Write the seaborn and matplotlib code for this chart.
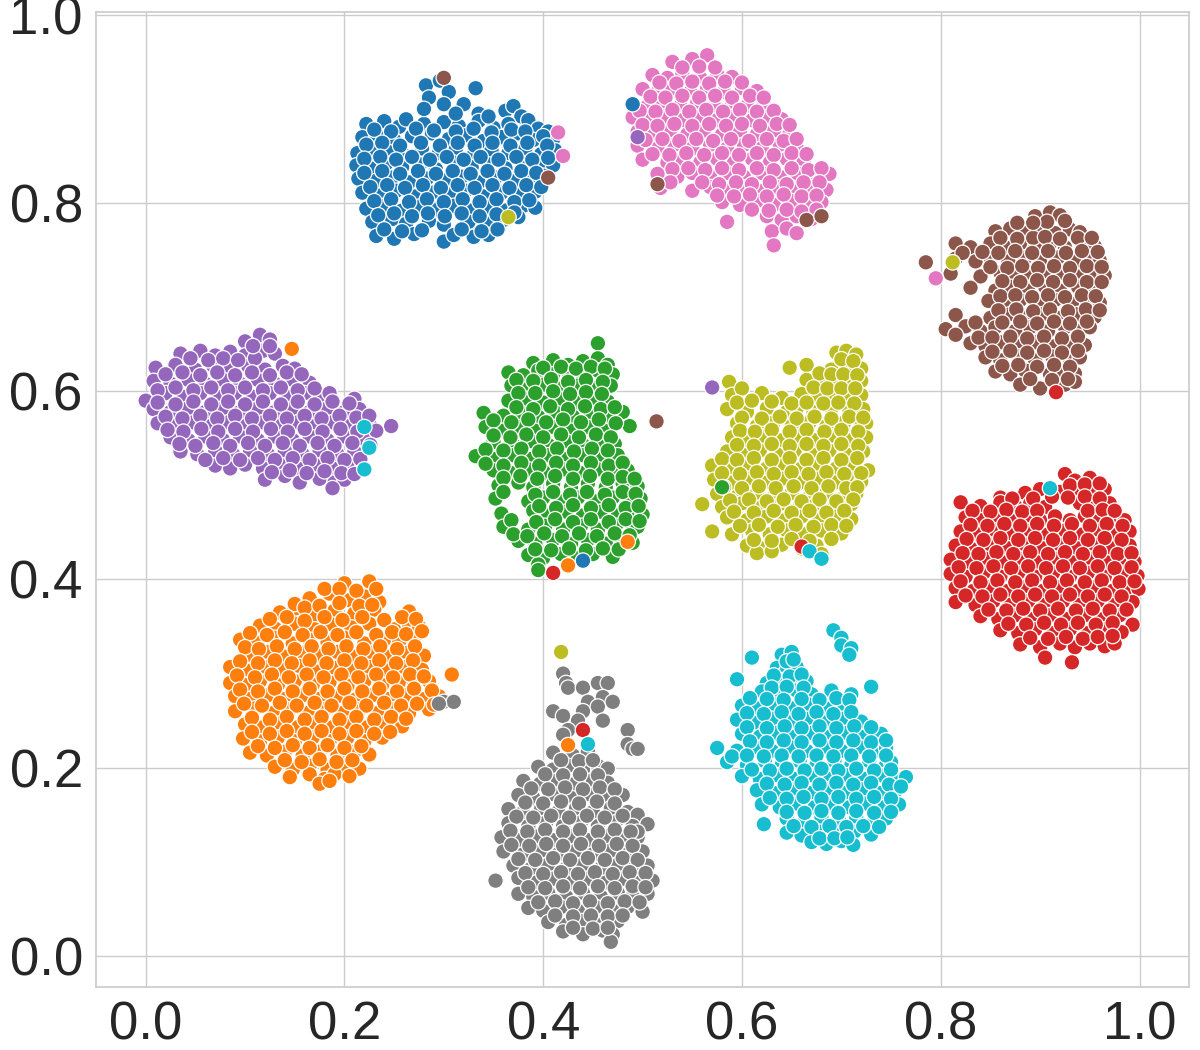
import matplotlib
matplotlib.use("Agg")
import matplotlib.pyplot as plt
import pandas as pd
import seaborn as sns

# points, one list per cluster
blue = [(.282,.925),(.296,.93),(.332,.922),(.285,.912),(.305,.918),(.32,.905),(.335,.895),(.362,.898),(.37,.903),(.378,.892),
(.222,.884),(.24,.887),(.255,.881),(.262,.889),(.28,.884),(.3,.886),(.315,.882),(.335,.887),(.35,.88),(.365,.884),(.385,.888),(.395,.879),(.405,.876),
(.218,.87),(.232,.873),(.25,.867),(.268,.871),(.288,.874),(.305,.868),(.322,.872),(.34,.866),(.358,.87),(.375,.874),(.39,.867),(.41,.868),
(.213,.853),(.228,.857),(.245,.854),(.26,.851),(.278,.858),(.295,.853),(.312,.857),(.33,.851),(.348,.856),(.365,.853),(.382,.858),(.398,.852),(.412,.856),
(.212,.84),(.226,.837),(.242,.842),(.258,.838),(.276,.841),(.292,.836),(.31,.843),(.328,.838),(.345,.841),(.362,.837),(.38,.842),(.396,.838),(.41,.84),
(.214,.826),(.23,.823),(.248,.827),(.265,.822),(.283,.826),(.3,.824),(.318,.828),(.335,.822),(.352,.827),(.37,.823),(.386,.826),(.4,.829),
(.218,.811),(.235,.808),(.252,.813),(.27,.807),(.288,.811),(.305,.809),(.322,.813),(.34,.807),(.358,.811),(.375,.808),(.392,.812),
(.222,.794),(.24,.797),(.258,.792),(.275,.796),(.292,.793),(.31,.797),(.328,.792),(.345,.796),(.362,.792),(.38,.797),(.392,.795),
(.228,.78),(.248,.783),(.262,.778),(.285,.781),(.3,.777),(.325,.78),(.345,.778),(.36,.782),(.375,.785),
(.232,.765),(.25,.762),(.27,.767),(.3,.759),(.31,.766),(.33,.764),(.345,.766),
(.23,.878),(.247,.876),(.272,.879),(.29,.877),(.312,.876),(.33,.879),(.348,.875),(.368,.878),(.382,.876),(.4,.871),
(.222,.862),(.238,.864),(.256,.861),(.277,.864),(.296,.861),(.314,.864),(.331,.861),(.349,.864),(.367,.861),(.384,.864),(.404,.861),
(.22,.847),(.236,.849),(.252,.846),(.268,.849),(.286,.846),(.303,.849),(.32,.846),(.337,.849),(.355,.846),(.373,.849),(.389,.846),(.405,.848),
(.22,.832),(.238,.834),(.256,.831),(.274,.834),(.292,.831),(.309,.834),(.327,.831),(.344,.834),(.361,.831),(.378,.834),(.393,.832),
(.226,.817),(.243,.819),(.261,.816),(.279,.819),(.297,.816),(.314,.819),(.331,.816),(.349,.819),(.366,.816),(.383,.819),(.398,.817),
(.23,.802),(.247,.804),(.265,.801),(.283,.804),(.3,.801),(.319,.804),(.336,.801),(.353,.804),(.371,.801),(.386,.803),
(.234,.787),(.25,.789),(.268,.786),(.284,.789),(.301,.786),(.318,.789),(.336,.786),(.353,.788),(.371,.79),
(.24,.772),(.258,.77),(.278,.771),(.318,.772),(.338,.77),(.354,.772),(.28,.9),(.3,.905),(.312,.895),(.345,.892)]

orange = [(.2,.396),(.225,.398),(.165,.38),(.185,.385),(.205,.378),(.22,.382),(.235,.376),
(.135,.365),(.15,.369),(.17,.362),(.19,.367),(.21,.364),(.23,.368),(.265,.366),
(.115,.351),(.13,.348),(.15,.353),(.17,.347),(.188,.352),(.207,.349),(.225,.353),(.25,.347),(.265,.352),(.275,.35),
(.095,.336),(.112,.333),(.13,.338),(.148,.332),(.165,.336),(.183,.333),(.2,.338),(.22,.332),(.24,.336),(.255,.333),(.27,.337),
(.105,.32),(.122,.323),(.14,.318),(.158,.322),(.175,.319),(.193,.323),(.21,.318),(.228,.322),(.245,.318),(.262,.322),(.28,.319),
(.085,.307),(.105,.303),(.12,.307),(.138,.304),(.155,.308),(.173,.302),(.19,.306),(.208,.303),(.225,.307),(.243,.303),(.26,.307),(.278,.304),
(.085,.29),(.1,.288),(.115,.292),(.133,.288),(.15,.292),(.168,.288),(.185,.291),(.203,.287),(.22,.292),(.238,.288),(.255,.291),(.27,.288),(.285,.292),
(.09,.276),(.105,.273),(.123,.277),(.14,.273),(.158,.277),(.175,.273),(.193,.276),(.21,.272),(.228,.277),(.245,.273),(.263,.277),(.28,.273),(.295,.276),
(.09,.26),(.11,.263),(.128,.258),(.145,.262),(.163,.258),(.18,.262),(.198,.258),(.215,.262),(.233,.258),(.25,.262),(.265,.258),(.285,.262),
(.1,.246),(.118,.243),(.135,.247),(.153,.243),(.17,.247),(.188,.243),(.205,.247),(.223,.243),(.24,.247),(.258,.244),
(.098,.231),(.115,.228),(.133,.232),(.15,.228),(.168,.232),(.185,.228),(.203,.232),(.22,.228),(.238,.232),
(.105,.216),(.122,.213),(.14,.217),(.158,.213),(.175,.217),(.193,.213),(.21,.217),(.225,.214),
(.13,.201),(.148,.198),(.165,.202),(.183,.198),(.2,.202),(.215,.199),(.145,.19),(.165,.193),(.18,.188),(.19,.193),(.205,.191),(.175,.183),(.185,.186),(.308,.299),
(.18,.39),(.195,.39),(.212,.388),(.232,.39),(.15,.374),(.16,.37),(.175,.372),(.195,.375),(.215,.372),(.228,.373),
(.125,.358),(.142,.36),(.16,.356),(.18,.36),(.198,.357),(.218,.36),(.24,.357),(.258,.36),(.272,.358),
(.105,.343),(.122,.341),(.14,.344),(.158,.341),(.176,.344),(.193,.341),(.212,.344),(.232,.341),(.248,.344),(.262,.342),(.278,.345),
(.1,.328),(.114,.326),(.132,.329),(.15,.326),(.167,.329),(.184,.326),(.202,.329),(.219,.326),(.236,.329),(.253,.326),(.271,.329),
(.095,.313),(.113,.311),(.13,.314),(.147,.311),(.165,.314),(.182,.311),(.2,.314),(.217,.311),(.235,.314),(.252,.311),(.269,.314),
(.092,.298),(.11,.296),(.127,.299),(.144,.296),(.162,.299),(.179,.296),(.197,.299),(.214,.296),(.232,.299),(.249,.296),(.266,.299),(.28,.297),
(.095,.283),(.113,.281),(.13,.284),(.148,.281),(.165,.284),(.183,.281),(.2,.284),(.218,.281),(.235,.284),(.253,.281),(.27,.284),(.288,.282),
(.099,.268),(.117,.266),(.135,.269),(.152,.266),(.17,.269),(.187,.266),(.205,.269),(.222,.266),(.24,.269),(.257,.266),(.273,.268),(.29,.267),
(.107,.253),(.125,.251),(.142,.254),(.16,.251),(.177,.254),(.195,.251),(.212,.254),(.23,.251),(.247,.254),(.262,.252),
(.107,.238),(.125,.236),(.142,.239),(.16,.236),(.177,.239),(.195,.236),(.212,.239),(.23,.236),(.246,.238),
(.113,.223),(.13,.221),(.148,.224),(.165,.221),(.183,.224),(.2,.221),(.217,.223),(.14,.208),(.157,.206),(.175,.209),(.192,.206),(.208,.208)]

green = [(.39,.63),(.41,.633),(.425,.628),(.44,.632),(.455,.651),(.455,.635),(.465,.628),
(.365,.62),(.38,.617),(.395,.622),(.41,.618),(.425,.621),(.44,.617),(.455,.622),(.47,.618),
(.368,.606),(.385,.603),(.4,.607),(.418,.603),(.435,.606),(.452,.603),(.468,.606),
(.365,.59),(.382,.592),(.4,.588),(.417,.592),(.435,.588),(.45,.592),(.465,.589),
(.34,.577),(.36,.574),(.378,.577),(.395,.573),(.413,.577),(.43,.573),(.448,.577),(.465,.574),(.48,.578),
(.342,.562),(.36,.558),(.375,.562),(.392,.558),(.41,.562),(.428,.558),(.445,.562),(.462,.558),(.487,.563),
(.35,.546),(.37,.543),(.388,.547),(.405,.543),(.423,.547),(.44,.543),(.458,.547),(.472,.544),
(.332,.531),(.352,.528),(.37,.532),(.388,.528),(.405,.532),(.423,.528),(.44,.532),(.458,.528),(.475,.532),
(.35,.516),(.368,.513),(.385,.517),(.403,.513),(.42,.517),(.438,.513),(.455,.517),(.473,.513),(.485,.516),
(.355,.5),(.375,.503),(.39,.498),(.41,.502),(.428,.498),(.445,.502),(.463,.498),(.48,.502),(.495,.499),
(.352,.486),(.385,.483),(.4,.487),(.418,.483),(.435,.487),(.453,.483),(.47,.487),(.488,.483),(.498,.486),
(.358,.47),(.39,.473),(.405,.468),(.423,.472),(.44,.468),(.458,.472),(.475,.468),(.492,.472),(.5,.469),
(.36,.456),(.385,.453),(.402,.457),(.42,.453),(.438,.457),(.455,.453),(.473,.457),(.49,.453),(.495,.456),
(.375,.441),(.392,.438),(.41,.442),(.428,.438),(.445,.442),(.463,.438),(.48,.442),(.49,.439),
(.385,.426),(.4,.423),(.418,.427),(.435,.423),(.45,.427),(.47,.424),(.395,.416),(.395,.41),
(.4,.625),(.418,.626),(.433,.624),(.448,.626),(.462,.624),(.373,.612),(.39,.611),(.408,.613),(.425,.61),(.443,.612),(.46,.61),
(.375,.598),(.392,.598),(.41,.6),(.427,.597),(.443,.599),(.459,.597),(.373,.583),(.39,.581),(.407,.584),(.425,.581),(.442,.584),(.458,.581),(.472,.583),
(.35,.569),(.368,.567),(.385,.57),(.403,.567),(.42,.57),(.438,.567),(.456,.57),(.473,.566),
(.35,.553),(.367,.551),(.383,.554),(.4,.551),(.418,.554),(.436,.551),(.453,.554),(.468,.551),
(.342,.538),(.36,.537),(.378,.539),(.396,.536),(.414,.539),(.431,.536),(.449,.539),(.465,.537),
(.342,.523),(.36,.521),(.378,.524),(.396,.521),(.413,.524),(.43,.521),(.448,.524),(.466,.521),(.48,.524),
(.36,.508),(.377,.51),(.394,.507),(.412,.51),(.43,.507),(.447,.51),(.465,.507),(.48,.509),(.492,.507),
(.36,.493),(.392,.49),(.41,.493),(.427,.49),(.444,.493),(.462,.49),(.48,.493),(.493,.491),
(.396,.478),(.413,.476),(.43,.479),(.448,.476),(.466,.479),(.483,.476),(.496,.478),
(.368,.463),(.393,.461),(.412,.464),(.43,.461),(.448,.464),(.466,.461),(.483,.464),(.497,.462),
(.37,.448),(.384,.446),(.401,.449),(.419,.446),(.436,.449),(.454,.446),(.472,.449),(.487,.447),
(.392,.432),(.408,.431),(.426,.433),(.443,.431),(.46,.433),(.476,.432)]

red = [(.925,.512),(.935,.505),(.95,.508),(.885,.492),(.9,.496),(.92,.493),(.935,.497),(.95,.492),(.965,.496),(.86,.487),
(.82,.482),(.84,.478),(.86,.482),(.875,.478),(.89,.481),(.905,.477),(.94,.481),(.955,.477),(.97,.481),
(.825,.466),(.84,.463),(.855,.467),(.87,.463),(.885,.467),(.9,.463),(.915,.467),(.93,.463),(.945,.467),(.96,.463),(.975,.467),(.985,.463),
(.82,.451),(.838,.448),(.855,.452),(.873,.448),(.89,.452),(.908,.448),(.925,.452),(.943,.448),(.96,.452),(.978,.448),(.99,.451),
(.815,.436),(.83,.433),(.85,.437),(.868,.433),(.885,.437),(.903,.433),(.92,.437),(.938,.433),(.955,.437),(.973,.433),(.99,.436),
(.81,.421),(.828,.418),(.845,.422),(.863,.418),(.88,.422),(.898,.418),(.915,.422),(.933,.418),(.95,.422),(.968,.418),(.985,.422),(.995,.419),
(.81,.406),(.825,.403),(.843,.407),(.86,.403),(.878,.407),(.895,.403),(.913,.407),(.93,.403),(.948,.407),(.965,.403),(.983,.407),(.998,.404),
(.815,.391),(.833,.388),(.85,.392),(.868,.388),(.885,.392),(.903,.388),(.92,.392),(.938,.388),(.955,.392),(.973,.388),(.99,.392),(.999,.39),
(.815,.376),(.835,.373),(.853,.377),(.87,.373),(.888,.377),(.905,.373),(.923,.377),(.94,.373),(.958,.377),(.975,.373),(.993,.376),
(.84,.361),(.858,.358),(.875,.362),(.893,.358),(.91,.362),(.928,.358),(.945,.362),(.963,.358),(.98,.362),(.993,.352),
(.86,.346),(.878,.343),(.895,.347),(.913,.343),(.93,.347),(.948,.343),(.965,.347),(.982,.344),
(.88,.331),(.9,.328),(.92,.332),(.935,.328),(.95,.332),(.965,.329),(.975,.332),(.905,.317),(.932,.312),
(.93,.5),(.945,.501),(.96,.502),(.893,.486),(.912,.488),(.928,.487),(.945,.488),(.96,.486),(.872,.486),
(.832,.473),(.85,.472),(.866,.474),(.882,.472),(.897,.473),(.948,.473),(.963,.474),(.975,.473),
(.83,.458),(.847,.457),(.864,.459),(.88,.457),(.897,.459),(.914,.457),(.932,.459),(.95,.457),(.967,.459),(.983,.457),
(.826,.443),(.843,.442),(.86,.444),(.878,.442),(.895,.444),(.913,.442),(.93,.444),(.948,.442),(.965,.444),(.982,.442),
(.822,.428),(.838,.427),(.856,.429),(.873,.427),(.89,.429),(.908,.427),(.925,.429),(.943,.427),(.96,.429),(.978,.427),(.992,.428),
(.818,.413),(.836,.412),(.853,.414),(.871,.412),(.888,.414),(.906,.412),(.923,.414),(.94,.412),(.958,.414),(.975,.412),(.992,.413),
(.82,.398),(.84,.397),(.857,.399),(.875,.397),(.892,.399),(.91,.397),(.927,.399),(.945,.397),(.962,.399),(.98,.397),(.995,.398),
(.825,.383),(.842,.382),(.86,.384),(.878,.382),(.895,.384),(.912,.382),(.93,.384),(.948,.382),(.965,.384),(.982,.382),
(.848,.368),(.866,.367),(.883,.369),(.9,.367),(.918,.369),(.936,.367),(.953,.369),(.97,.367),(.987,.368),
(.868,.353),(.886,.352),(.904,.354),(.921,.352),(.938,.354),(.956,.352),(.973,.354),
(.89,.338),(.908,.337),(.926,.339),(.943,.337),(.958,.339),(.973,.34)]

purple = [(.1,.653),(.115,.66),(.125,.655),(.035,.64),(.055,.643),(.07,.638),(.085,.642),(.1,.638),(.118,.643),(.13,.64),
(.01,.625),(.03,.628),(.05,.623),(.068,.627),(.085,.623),(.103,.627),(.12,.623),(.138,.627),(.15,.624),
(.008,.611),(.025,.608),(.043,.612),(.06,.608),(.078,.612),(.095,.608),(.113,.612),(.13,.608),(.148,.612),(.165,.609),
(.0,.59),(.02,.598),(.038,.594),(.055,.598),(.073,.594),(.09,.598),(.108,.594),(.125,.598),(.143,.594),(.16,.598),(.178,.594),(.21,.592),
(.008,.581),(.025,.578),(.043,.582),(.06,.578),(.078,.582),(.095,.578),(.113,.582),(.13,.578),(.148,.582),(.165,.578),(.183,.582),(.2,.578),(.215,.581),
(.012,.566),(.03,.563),(.048,.567),(.065,.563),(.083,.567),(.1,.563),(.118,.567),(.135,.563),(.153,.567),(.17,.563),(.188,.567),(.205,.563),(.225,.566),(.247,.563),
(.025,.551),(.043,.548),(.06,.552),(.078,.548),(.095,.552),(.113,.548),(.13,.552),(.148,.548),(.165,.552),(.183,.548),(.2,.552),(.22,.549),
(.035,.536),(.052,.533),(.07,.537),(.088,.533),(.105,.537),(.123,.533),(.14,.537),(.158,.533),(.175,.537),(.193,.533),(.21,.536),
(.07,.521),(.085,.518),(.1,.522),(.118,.518),(.135,.522),(.153,.518),(.17,.522),(.188,.518),(.205,.522),(.218,.519),
(.12,.506),(.14,.51),(.155,.503),(.175,.507),(.19,.503),(.2,.506),(.188,.497),
(.045,.635),(.063,.633),(.078,.635),(.093,.633),(.11,.635),(.125,.648),(.108,.648),(.02,.618),(.037,.62),(.055,.617),(.072,.62),(.09,.617),(.107,.62),(.125,.617),(.142,.62),(.157,.618),
(.012,.601),(.03,.604),(.048,.601),(.066,.604),(.083,.601),(.1,.604),(.118,.601),(.136,.604),(.153,.601),(.17,.603),(.185,.598),
(.012,.588),(.03,.586),(.048,.589),(.066,.586),(.083,.589),(.1,.586),(.118,.589),(.136,.586),(.153,.589),(.17,.586),(.188,.589),(.205,.587),
(.02,.573),(.037,.571),(.055,.574),(.072,.571),(.09,.574),(.107,.571),(.125,.574),(.142,.571),(.16,.574),(.177,.571),(.195,.574),(.212,.572),(.225,.574),
(.022,.559),(.038,.557),(.056,.56),(.073,.557),(.09,.56),(.108,.557),(.126,.56),(.143,.557),(.16,.56),(.178,.557),(.196,.56),(.213,.557),(.232,.558),
(.034,.544),(.05,.542),(.068,.545),(.085,.542),(.103,.545),(.12,.542),(.138,.545),(.155,.542),(.173,.545),(.19,.542),(.208,.545),(.226,.543),
(.06,.527),(.078,.529),(.095,.527),(.113,.529),(.13,.527),(.148,.529),(.165,.527),(.183,.529),(.2,.527),(.216,.528),
(.127,.514),(.145,.516),(.162,.513),(.18,.515),(.197,.513),(.21,.512)]

brown = [(.895,.786),(.91,.79),(.92,.787),(.855,.77),(.87,.773),(.885,.768),(.9,.772),(.915,.768),(.93,.772),(.94,.769),
(.815,.757),(.83,.753),(.85,.757),(.865,.753),(.88,.757),(.895,.753),(.91,.757),(.925,.753),(.945,.757),(.955,.754),
(.785,.737),(.815,.741),(.835,.738),(.85,.742),(.868,.738),(.885,.742),(.9,.738),(.918,.742),(.935,.738),(.95,.742),(.96,.739),
(.81,.725),(.84,.722),(.86,.726),(.875,.722),(.89,.726),(.905,.722),(.922,.726),(.94,.722),(.955,.726),(.965,.723),
(.83,.71),(.855,.707),(.87,.711),(.888,.707),(.905,.711),(.92,.707),(.938,.711),(.955,.707),
(.848,.696),(.865,.693),(.88,.697),(.9,.693),(.915,.697),(.932,.693),(.95,.697),(.96,.694),
(.815,.681),(.85,.678),(.87,.682),(.885,.678),(.903,.682),(.92,.678),(.938,.682),(.955,.679),
(.805,.666),(.825,.669),(.84,.664),(.855,.668),(.875,.664),(.89,.668),(.908,.664),(.925,.668),(.94,.664),(.95,.668),
(.83,.651),(.845,.648),(.86,.652),(.88,.648),(.895,.652),(.915,.648),(.93,.652),(.945,.649),
(.845,.636),(.86,.633),(.878,.637),(.895,.633),(.912,.637),(.93,.633),(.94,.636),
(.855,.621),(.87,.618),(.885,.622),(.91,.618),(.92,.622),(.935,.619),(.88,.607),(.9,.603),(.925,.607),(.935,.61),
(.86,.763),(.877,.762),(.893,.763),(.907,.78),(.925,.781),(.893,.779),(.877,.779),(.905,.764),(.92,.762),(.938,.763),(.952,.763),
(.842,.748),(.858,.747),(.875,.749),(.892,.747),(.908,.749),(.926,.747),(.942,.749),(.958,.748),(.822,.747),
(.85,.732),(.867,.731),(.882,.733),(.898,.731),(.914,.733),(.93,.731),(.947,.733),(.962,.732),
(.862,.717),(.88,.716),(.897,.718),(.913,.716),(.93,.718),(.947,.716),(.962,.716),
(.86,.701),(.875,.702),(.892,.7),(.908,.702),(.925,.7),(.942,.702),(.956,.701),
(.858,.686),(.876,.687),(.893,.685),(.91,.687),(.928,.685),(.946,.687),(.96,.686),
(.835,.673),(.862,.673),(.88,.674),(.897,.672),(.914,.674),(.93,.672),(.947,.674),(.815,.66),
(.838,.657),(.852,.657),(.87,.658),(.887,.656),(.904,.658),(.922,.656),(.938,.658),
(.852,.642),(.87,.643),(.887,.641),(.904,.643),(.922,.641),(.938,.643),(.862,.627),(.878,.628),(.897,.626),(.914,.628),(.93,.626),(.89,.613),(.912,.612),(.928,.613)]

pink = [(.53,.95),(.55,.953),(.565,.957),(.51,.936),(.525,.933),(.54,.937),(.558,.933),(.575,.937),(.59,.934),
(.5,.921),(.515,.918),(.53,.922),(.548,.918),(.565,.922),(.582,.918),(.6,.922),(.615,.919),
(.49,.906),(.505,.903),(.52,.907),(.538,.903),(.555,.907),(.572,.903),(.59,.907),(.605,.903),(.622,.906),
(.49,.891),(.505,.888),(.522,.892),(.54,.888),(.558,.892),(.575,.888),(.592,.892),(.61,.888),(.628,.892),(.64,.889),
(.495,.876),(.51,.873),(.528,.877),(.545,.873),(.562,.877),(.58,.873),(.598,.877),(.615,.873),(.632,.877),(.648,.874),
(.495,.861),(.515,.858),(.532,.862),(.55,.858),(.568,.862),(.585,.858),(.602,.862),(.62,.858),(.638,.862),(.655,.859),
(.5,.846),(.525,.843),(.54,.847),(.558,.843),(.575,.847),(.592,.843),(.61,.847),(.628,.843),(.645,.847),(.662,.844),
(.515,.831),(.535,.828),(.55,.832),(.568,.828),(.585,.832),(.602,.828),(.62,.832),(.638,.828),(.655,.832),(.672,.828),(.688,.831),
(.518,.816),(.55,.813),(.568,.817),(.585,.813),(.6,.817),(.618,.813),(.635,.817),(.652,.813),(.67,.817),(.685,.814),
(.58,.801),(.598,.798),(.615,.802),(.632,.798),(.65,.802),(.665,.798),(.68,.801),
(.585,.78),(.625,.786),(.64,.782),(.655,.786),(.67,.783),(.63,.77),(.645,.773),(.655,.768),(.632,.755),
(.54,.944),(.557,.945),(.573,.944),(.517,.928),(.534,.927),(.55,.929),(.567,.927),(.583,.929),(.6,.928),
(.508,.913),(.523,.912),(.54,.914),(.557,.912),(.573,.914),(.59,.912),(.608,.914),(.622,.912),
(.497,.898),(.513,.897),(.53,.899),(.547,.897),(.564,.899),(.581,.897),(.598,.899),(.615,.897),(.632,.898),
(.5,.883),(.515,.882),(.532,.884),(.55,.882),(.567,.884),(.584,.882),(.6,.884),(.618,.882),(.635,.884),(.648,.883),
(.503,.867),(.52,.868),(.537,.866),(.554,.868),(.571,.866),(.589,.868),(.607,.866),(.625,.868),(.642,.866),(.655,.868),
(.51,.852),(.527,.851),(.544,.853),(.562,.851),(.58,.853),(.597,.851),(.615,.853),(.632,.851),(.65,.853),(.665,.852),
(.53,.836),(.546,.837),(.563,.835),(.58,.837),(.597,.835),(.615,.837),(.632,.835),(.65,.837),(.667,.835),(.68,.837),
(.528,.822),(.56,.822),(.577,.82),(.594,.822),(.61,.82),(.628,.822),(.645,.82),(.662,.822),(.678,.822),
(.575,.808),(.592,.807),(.608,.809),(.625,.807),(.642,.809),(.66,.807),(.675,.808),(.61,.793),(.627,.792),(.645,.793),(.66,.791),(.675,.793)]

grey = [(.42,.3),(.423,.29),(.425,.285),(.44,.285),(.455,.29),(.465,.29),(.46,.275),(.445,.27),(.44,.26),(.455,.265),(.47,.27),
(.41,.26),(.42,.255),(.435,.25),(.425,.24),(.42,.235),(.46,.25),(.485,.24),(.485,.225),(.49,.22),(.495,.22),
(.3,.27),(.31,.27),(.295,.268),
(.41,.216),(.43,.213),(.445,.217),(.395,.201),(.41,.198),(.425,.202),(.44,.198),(.455,.202),(.465,.199),
(.38,.186),(.397,.183),(.415,.187),(.432,.183),(.45,.187),(.465,.184),
(.375,.171),(.39,.168),(.41,.172),(.428,.168),(.445,.172),(.463,.168),(.48,.171),
(.365,.156),(.38,.153),(.398,.157),(.415,.153),(.433,.157),(.45,.153),(.468,.157),(.485,.153),(.495,.15),
(.365,.141),(.385,.138),(.403,.142),(.42,.138),(.438,.142),(.455,.138),(.473,.142),(.49,.138),(.505,.14),
(.358,.126),(.375,.123),(.393,.127),(.41,.123),(.428,.127),(.445,.123),(.463,.127),(.48,.123),(.495,.126),
(.36,.111),(.38,.108),(.398,.112),(.415,.108),(.433,.112),(.45,.108),(.468,.112),(.485,.108),(.5,.111),
(.37,.096),(.388,.093),(.405,.097),(.423,.093),(.44,.097),(.458,.093),(.475,.097),(.49,.093),(.505,.096),
(.352,.08),(.375,.083),(.393,.078),(.41,.082),(.428,.078),(.445,.082),(.463,.078),(.48,.082),(.497,.078),(.51,.08),
(.375,.066),(.39,.063),(.405,.067),(.423,.063),(.44,.067),(.458,.063),(.475,.067),(.49,.063),(.505,.066),
(.385,.051),(.4,.048),(.418,.052),(.435,.048),(.453,.052),(.47,.048),(.485,.052),(.5,.047),
(.405,.036),(.423,.033),(.44,.037),(.458,.033),(.475,.037),(.42,.026),(.44,.023),(.46,.027),(.47,.023),(.468,.015),
(.418,.208),(.436,.207),(.45,.208),(.402,.193),(.42,.192),(.437,.193),(.455,.192),(.388,.178),(.405,.177),(.422,.179),(.44,.177),(.457,.179),(.472,.177),
(.382,.163),(.4,.162),(.418,.164),(.436,.162),(.454,.164),(.472,.162),(.373,.148),(.39,.147),(.408,.149),(.426,.147),(.444,.149),(.462,.147),(.48,.149),(.495,.132),
(.367,.133),(.384,.132),(.402,.134),(.42,.132),(.437,.134),(.455,.132),(.472,.134),(.488,.132),
(.368,.118),(.386,.117),(.403,.119),(.42,.117),(.438,.119),(.456,.117),(.474,.119),(.49,.117),
(.375,.103),(.392,.102),(.41,.104),(.427,.102),(.445,.104),(.462,.102),(.48,.104),(.495,.102),
(.382,.088),(.4,.087),(.418,.089),(.435,.087),(.452,.089),(.47,.087),(.487,.089),(.503,.088),
(.385,.073),(.402,.072),(.42,.074),(.437,.072),(.455,.074),(.472,.072),(.49,.074),(.503,.073),
(.395,.057),(.412,.058),(.43,.056),(.447,.058),(.465,.056),(.482,.058),(.497,.057),
(.412,.043),(.43,.042),(.448,.043),(.465,.042),(.48,.043),(.43,.03),(.45,.029),(.465,.03)]

olive = [(.695,.641),(.705,.643),(.715,.639),(.648,.625),(.665,.628),(.69,.623),(.705,.627),(.72,.624),
(.587,.61),(.665,.612),(.68,.608),(.695,.612),(.71,.608),(.72,.611),
(.59,.596),(.6,.603),(.62,.598),(.64,.593),(.66,.597),(.675,.593),(.69,.597),(.705,.593),(.72,.596),
(.585,.581),(.605,.578),(.625,.582),(.645,.578),(.655,.582),(.672,.578),(.69,.582),(.708,.578),(.722,.581),
(.595,.566),(.615,.563),(.632,.567),(.65,.563),(.668,.567),(.685,.563),(.703,.567),(.72,.563),(.725,.566),
(.59,.551),(.605,.548),(.622,.552),(.64,.548),(.658,.552),(.675,.548),(.693,.552),(.71,.548),(.725,.551),
(.585,.536),(.6,.533),(.618,.537),(.635,.533),(.653,.537),(.67,.533),(.688,.537),(.705,.533),(.722,.536),
(.57,.521),(.59,.518),(.608,.522),(.625,.518),(.643,.522),(.66,.518),(.678,.522),(.695,.518),(.713,.522),(.727,.516),
(.572,.506),(.59,.503),(.605,.507),(.622,.503),(.64,.507),(.658,.503),(.675,.507),(.693,.503),(.71,.507),(.72,.504),
(.575,.491),(.595,.488),(.615,.492),(.632,.488),(.65,.492),(.668,.488),(.685,.492),(.703,.488),(.715,.491),
(.56,.48),(.58,.477),(.6,.481),(.62,.477),(.64,.481),(.658,.477),(.675,.481),(.693,.477),(.71,.48),
(.585,.466),(.605,.463),(.625,.467),(.643,.463),(.66,.467),(.678,.463),(.695,.467),(.71,.464),
(.57,.451),(.59,.448),(.61,.452),(.628,.448),(.645,.452),(.663,.448),(.68,.452),(.7,.449),
(.605,.436),(.62,.433),(.64,.437),(.66,.433),(.675,.436),(.615,.428),(.63,.43),
(.7,.634),(.712,.632),(.678,.619),(.69,.618),(.702,.618),(.716,.617),(.672,.604),(.686,.603),(.7,.603),(.714,.603),
(.595,.588),(.61,.59),(.63,.589),(.65,.587),(.665,.588),(.682,.587),(.697,.588),(.713,.587),
(.6,.572),(.62,.571),(.638,.573),(.655,.571),(.673,.573),(.69,.571),(.708,.573),(.722,.572),
(.598,.558),(.613,.557),(.63,.559),(.648,.557),(.665,.559),(.683,.557),(.7,.559),(.717,.557),
(.595,.543),(.612,.542),(.63,.544),(.648,.542),(.665,.544),(.682,.542),(.7,.544),(.717,.542),
(.58,.528),(.595,.527),(.612,.529),(.63,.527),(.648,.529),(.665,.527),(.682,.529),(.7,.527),(.716,.529),
(.58,.513),(.598,.512),(.615,.514),(.632,.512),(.65,.514),(.667,.512),(.685,.514),(.703,.512),(.72,.513),
(.582,.498),(.6,.497),(.617,.499),(.634,.497),(.652,.499),(.67,.497),(.687,.499),(.705,.497),(.716,.498),
(.588,.484),(.607,.485),(.625,.483),(.642,.485),(.66,.483),(.678,.485),(.695,.483),(.712,.485),
(.592,.472),(.612,.471),(.632,.473),(.65,.471),(.668,.473),(.685,.471),(.703,.473),
(.598,.457),(.617,.458),(.636,.456),(.654,.458),(.672,.456),(.69,.458),(.705,.457),
(.612,.442),(.63,.441),(.65,.443),(.668,.441),(.69,.443)]

cyan = [(.692,.346),(.7,.338),(.7,.33),(.71,.327),(.708,.32),(.61,.317),(.64,.32),(.65,.323),
(.635,.306),(.645,.303),(.655,.307),(.595,.294),(.625,.29),(.64,.293),(.655,.288),(.665,.292),
(.62,.281),(.64,.278),(.655,.282),(.67,.278),(.69,.282),(.71,.278),(.73,.286),
(.6,.266),(.615,.263),(.633,.267),(.65,.263),(.668,.267),(.685,.263),(.703,.267),
(.595,.251),(.612,.248),(.63,.252),(.648,.248),(.665,.252),(.683,.248),(.7,.252),(.72,.249),
(.6,.236),(.618,.233),(.635,.237),(.653,.233),(.67,.237),(.688,.233),(.705,.237),(.723,.233),(.74,.236),
(.575,.221),(.595,.218),(.613,.222),(.63,.218),(.648,.222),(.665,.218),(.683,.222),(.7,.218),(.718,.222),(.735,.218),(.745,.221),
(.585,.206),(.605,.203),(.623,.207),(.64,.203),(.658,.207),(.675,.203),(.693,.207),(.71,.203),(.728,.207),(.745,.203),(.75,.206),
(.6,.191),(.618,.188),(.635,.192),(.653,.188),(.67,.192),(.688,.188),(.705,.192),(.723,.188),(.74,.192),(.755,.188),(.765,.19),
(.615,.176),(.633,.173),(.65,.177),(.668,.173),(.685,.177),(.703,.173),(.72,.177),(.738,.173),(.755,.176),
(.62,.161),(.638,.158),(.655,.162),(.673,.158),(.69,.162),(.708,.158),(.725,.162),(.743,.158),(.758,.161),
(.622,.14),(.645,.146),(.663,.143),(.68,.147),(.698,.143),(.715,.147),(.733,.143),(.745,.146),
(.645,.131),(.66,.128),(.678,.132),(.695,.128),(.713,.132),(.73,.129),(.67,.121),(.685,.119),(.7,.122),(.712,.118),
(.645,.313),(.652,.315),(.632,.298),(.648,.297),(.66,.299),(.63,.285),(.645,.286),(.662,.285),
(.608,.274),(.625,.273),(.642,.272),(.66,.273),(.678,.272),(.695,.274),(.708,.272),
(.605,.258),(.622,.257),(.64,.259),(.657,.257),(.675,.259),(.692,.257),(.71,.259),
(.605,.243),(.625,.242),(.643,.244),(.66,.242),(.678,.244),(.695,.242),(.713,.244),(.73,.243),
(.608,.228),(.625,.227),(.642,.229),(.66,.227),(.678,.229),(.695,.227),(.712,.229),(.73,.227),(.745,.229),
(.59,.212),(.605,.213),(.622,.212),(.64,.213),(.657,.212),(.675,.213),(.692,.212),(.71,.213),(.728,.212),(.745,.213),
(.61,.198),(.628,.197),(.645,.199),(.663,.197),(.68,.199),(.697,.197),(.715,.199),(.733,.197),(.75,.198),
(.625,.183),(.643,.182),(.66,.184),(.678,.182),(.695,.184),(.712,.182),(.73,.184),(.748,.182),(.76,.18),
(.628,.168),(.645,.167),(.662,.169),(.68,.167),(.697,.169),(.715,.167),(.733,.169),(.75,.167),
(.645,.153),(.663,.152),(.68,.154),(.697,.152),(.715,.154),(.733,.152),(.75,.153),
(.652,.138),(.67,.137),(.688,.138),(.705,.137),(.722,.138),(.738,.137),(.678,.125),(.693,.125),(.706,.126)]

# the few points that sit away from their own cluster
strays = [("brown",.3,.933),("brown",.405,.827),("brown",.515,.82),("brown",.665,.782),("brown",.68,.786),("brown",.514,.568),
("pink",.415,.875),("pink",.42,.85),("pink",.795,.72),
("olive",.365,.785),("olive",.812,.737),("olive",.418,.323),("olive",.68,.427),
("purple",.495,.87),("purple",.57,.604),
("blue",.49,.905),("blue",.44,.42),
("orange",.147,.645),("orange",.425,.415),("orange",.485,.44),("orange",.425,.224),
("red",.916,.599),("red",.41,.407),("red",.44,.24),("red",.66,.435),
("cyan",.22,.562),("cyan",.225,.54),("cyan",.22,.517),("cyan",.91,.497),("cyan",.668,.43),("cyan",.68,.422),("cyan",.445,.225),
("green",.58,.498)]

clusters = {"blue": blue, "orange": orange, "green": green, "red": red, "purple": purple,
            "brown": brown, "pink": pink, "grey": grey, "olive": olive, "cyan": cyan}

rows = [(name, x, y) for name, pts in clusters.items() for x, y in pts] + strays
df = pd.DataFrame(rows, columns=["cluster", "x", "y"])

sns.set_theme(style="whitegrid")
plt.rcParams["font.family"] = ["Liberation Sans", "DejaVu Sans"]

fig, ax = plt.subplots(figsize=(12, 10.5), dpi=100)
sns.scatterplot(data=df, x="x", y="y", hue="cluster", hue_order=list(clusters),
                palette="tab10", s=125, edgecolor="white", linewidth=0.9, legend=False, ax=ax)
ax.set_xlabel("")
ax.set_ylabel("")
ax.set_xlim(-0.05, 1.05)
ax.set_ylim(-0.033, 1.003)
ax.set_xticks([0, 0.2, 0.4, 0.6, 0.8, 1.0])
ax.set_yticks([0, 0.2, 0.4, 0.6, 0.8, 1.0])
ax.tick_params(labelsize=38)
fig.subplots_adjust(left=0.08, right=0.991, top=0.9886, bottom=0.06)
fig.savefig("out.png", dpi=100)
